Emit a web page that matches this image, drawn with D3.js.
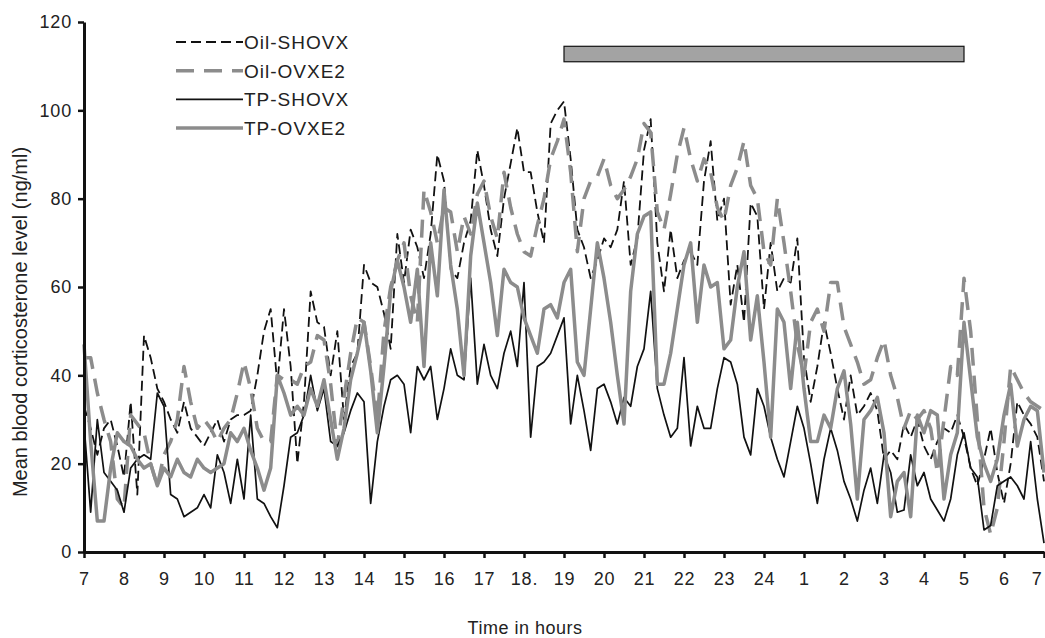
<!DOCTYPE html>
<html>
<head>
<meta charset="utf-8">
<script src="https://cdn.jsdelivr.net/npm/d3@7"></script>
<style>
  body { margin: 0; background: #fff; }
  text { font-family: Arial, "Liberation Sans", sans-serif; fill: #222; }
</style>
</head>
<body>
<div id="chart-area"></div>
<script>
// hour labels, one every 6 samples (10 min sampling, 7h to 7h)
var hourLabels = ["7","8","9","10","11","12","13","14","15","16","17","18.","19",
  "20","21","22","23","24","1","2","3","4","5","6","7"];
var yTicks = [0, 20, 40, 60, 80, 100, 120];

// dark period bar (sample index, ng/ml)
var barStart = 72, barEnd = 132;
var barLow = 111, barHigh = 114.5;

var oilShovx = [33,28,22,28,30,24,17,34,13,49, 44,37,34,30,27,34,28,26,24,27,
  30,25,30,31,31,32,40,50,55,38, 55,42,20,34,59,52,51,40,50,30,
  42,45,65,61,60,54,46,72,61,73, 69,62,72,90,84,64,62,70,75,91,
  83,73,67,80,88,96,86,86,77,70, 97,100,102,89,73,69,62,66,71,69,
  73,84,65,71,91,98,70,59,73,62, 66,68,65,84,93,75,80,56,65,52,
  79,76,55,70,59,62,61,71,44,34, 42,52,45,37,30,40,31,33,36,32,
  21,23,21,29,26,30,24,21,25,28, 27,31,26,19,15,21,28,18,11,20,
  34,31,29,26,16];

var oilOvxe2 = [44,44,36,30,25,12,10,31,29,27, 20,15,22,25,30,42,34,28,30,28,
  25,28,30,36,43,37,28,25,25,40, 39,39,38,42,43,49,48,38,24,35,
  45,53,52,42,30,50,60,66,70,58, 52,82,77,70,78,77,68,76,72,81,
  84,76,71,86,78,72,68,67,74,80, 89,93,98,86,68,80,84,85,89,83,
  80,82,85,89,97,95,77,73,81,90, 96,89,84,89,86,78,75,83,87,93,
  83,80,68,65,80,70,59,47,40,52, 55,50,61,61,51,47,43,38,39,44,
  48,40,35,28,32,30,32,28,18,30, 42,40,62,50,30,10,4,10,25,42,
  39,36,34,33,32];

var tpShovx = [29,9,30,18,16,14,9,19,21,22, 21,36,33,13,12,8,9,10,13,10,
  22,18,11,21,12,31,12,11,8,5.5, 15,26,27,31,40,32,37,25,24,27,
  32,36,34,11,25,33,39,40,38,27, 42,39,42,30,37,46,40,39,62,38,
  47,40,37,45,50,42,61,26,42,43, 45,49,53,29,40,32,23,37,38,34,
  29,35,33,42,46,59,37,31,26,28, 44,24,33,28,28,37,44,43,38,26,
  22,37,33,26,21,17,25,33,28,20, 11,21,28,23,16,12,7,14,19,11,
  22,18,9,9.5,22,15,18,12,9.5,7, 12,22,27,19,17,5,6,15,16,17,
  15,12,25,12,2];

var tpOvxe2 = [47,25,7,7,19,27,25,24,21,19, 20,15,19,17,21,18,17,21,19,18,
  19,20,27,25,28,23,19,14,19,40, 36,31,33,31,37,33,39,30,21,28,
  39,45,52,41,27,42,59,66,60,52, 64,42,70,58,82,65,55,40,67,79,
  70,61,49,64,61,60,53,49,45,55, 56,53,61,64,43,40,55,70,62,52,
  40,29,59,72,76,77,38,38,45,55, 65,70,52,65,60,61,46,48,60,68,
  48,58,43,26,55,52,37,52,37,25, 25,31,28,37,41,29,12,30,32,35,
  27,8,16,18,8,31,27,32,31,12, 22,27,52,39,26,20,16,21,31,38,
  24,30,33,32,18];

var seriesNames = ["Oil-SHOVX", "Oil-OVXE2", "TP-SHOVX", "TP-OVXE2"];

var series = [
  {name: seriesNames[0], values: oilShovx, color: "#111", width: 1.8, dash: "10,5"},
  {name: seriesNames[1], values: oilOvxe2, color: "#8c8c8c", width: 3.5, dash: "18,10"},
  {name: seriesNames[2], values: tpShovx, color: "#111", width: 1.7, dash: null},
  {name: seriesNames[3], values: tpOvxe2, color: "#8c8c8c", width: 3.5, dash: null}
];

var margin = {left: 84, right: 1, top: 22, bottom: 86};
var width = 1045 - margin.left - margin.right;
var height = 638 - margin.top - margin.bottom;

var svg = d3.select("#chart-area").append("svg")
    .attr("width", 1045)
    .attr("height", 638);

var g = svg.append("g")
    .attr("transform", "translate(" + margin.left + "," + margin.top + ")");

var x = d3.scaleLinear()
  .domain([0, 144])
  .range([0, width]);

var y = d3.scaleLinear()
  .domain([0, 120])
  .range([height, 0]);

// dark period bar
g.append("rect")
  .attr("x", x(barStart))
  .attr("y", y(barHigh))
  .attr("width", x(barEnd) - x(barStart))
  .attr("height", y(barLow) - y(barHigh))
  .attr("fill", "#a3a3a3")
  .attr("stroke", "#111")
  .attr("stroke-width", 1.2);

var line = d3.line()
  .x((d, i) => x(i))
  .y(d => y(d));

series.forEach(s => {
  g.append("path")
    .datum(s.values)
    .attr("fill", "none")
    .attr("stroke", s.color)
    .attr("stroke-width", s.width)
    .attr("stroke-linejoin", "round")
    .attr("stroke-dasharray", s.dash)
    .attr("d", line);
});

// X axis
var xAxisCall = d3.axisBottom(x)
  .tickValues(d3.range(0, 145, 6))
  .tickFormat((d, i) => hourLabels[i])
  .tickSize(6)
  .tickSizeOuter(0)
  .tickPadding(14);

var xAxisGroup = g.append("g")
  .attr("transform", "translate(0," + height + ")")
  .call(xAxisCall);

// Y axis
var yAxisCall = d3.axisLeft(y)
  .tickValues(yTicks)
  .tickSize(6)
  .tickSizeOuter(0)
  .tickPadding(6);

var yAxisGroup = g.append("g")
  .call(yAxisCall);

[xAxisGroup, yAxisGroup].forEach(a => {
  a.select(".domain").attr("stroke", "#111").attr("stroke-width", 3);
  a.selectAll(".tick line").attr("stroke", "#111").attr("stroke-width", 2.5);
  a.selectAll(".tick text")
    .attr("font-size", "18px")
    .attr("font-family", "Arial, 'Liberation Sans', sans-serif")
    .attr("fill", "#222")
    .style("letter-spacing", "0.8px");
});

// last "7" sits on the right edge, keep it inside the picture
xAxisGroup.selectAll(".tick text")
  .filter((d, i) => i === hourLabels.length - 1)
  .attr("text-anchor", "end")
  .attr("dx", "-2px");

// Y label
svg.append("text")
  .attr("transform", "translate(27,322) rotate(-90)")
  .attr("text-anchor", "middle")
  .attr("font-size", "20px")
  .text("Mean blood corticosterone level (ng/ml)");

// X label
svg.append("text")
  .attr("x", 525)
  .attr("y", 634)
  .attr("text-anchor", "middle")
  .attr("font-size", "18px")
  .style("letter-spacing", "0.5px")
  .text("Time in hours");

// Legend
var legend = svg.append("g");
series.forEach((s, i) => {
  var ly = 42 + i * 28.7;
  legend.append("line")
    .attr("x1", 176).attr("x2", 243)
    .attr("y1", ly).attr("y2", ly)
    .attr("stroke", s.color)
    .attr("stroke-width", s.width)
    .attr("stroke-dasharray", s.dash);
  legend.append("text")
    .attr("x", 244)
    .attr("y", ly + 7)
    .attr("font-size", "19px")
    .style("letter-spacing", "1px")
    .text(s.name);
});
</script>
</body>
</html>
